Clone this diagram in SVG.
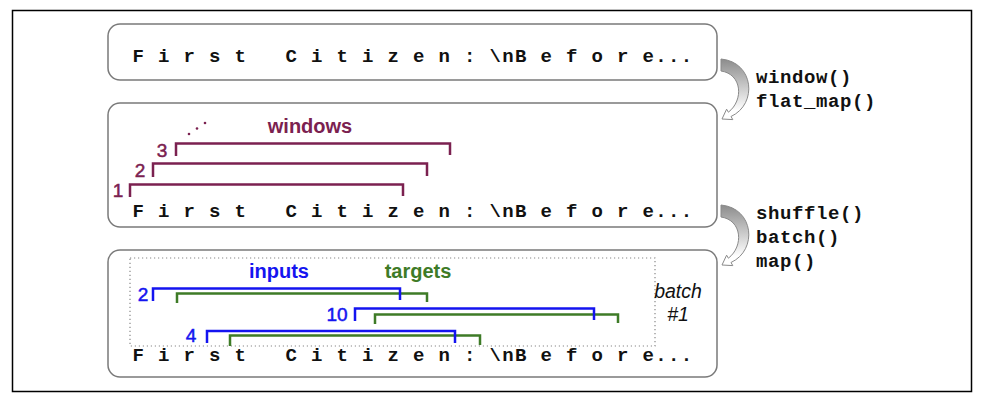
<svg xmlns="http://www.w3.org/2000/svg" width="982" height="400" viewBox="0 0 982 400">
<style>
.frame{fill:none;stroke:#000;stroke-width:1.5}
.box{fill:#fff;stroke:#7a7a7a;stroke-width:1.5}
.seq{font-family:"Liberation Mono","DejaVu Sans Mono",monospace;font-weight:bold;font-size:19px;letter-spacing:1.35px;fill:#111;white-space:pre}
.op{font-family:"Liberation Mono","DejaVu Sans Mono",monospace;font-weight:bold;font-size:19px;letter-spacing:0.6px;fill:#111}
.lbl{font-family:"Liberation Sans",Arial,sans-serif;font-weight:bold;font-size:20px}
.num{font-family:"Liberation Sans",Arial,sans-serif;font-size:19px;text-anchor:middle;stroke-width:0.5}
.mar{fill:#7b2150}
.blu{fill:#1414f0}
.grn{fill:#3e7b27}
.num.mar{stroke:#7b2150}
.num.blu{stroke:#1414f0}
.bm{fill:none;stroke:#7b2150;stroke-width:2.5}
.bb{fill:none;stroke:#1414f0;stroke-width:2.5}
.bg{fill:none;stroke:#3e7b27;stroke-width:2.5}
.batch{font-family:"Liberation Sans",Arial,sans-serif;font-style:italic;font-size:19.5px;fill:#111;text-anchor:middle}
.arrow{fill:url(#ag);stroke:#8a8a8a;stroke-width:1}
</style>
<defs>
<linearGradient id="ag" x1="0" y1="0" x2="0" y2="1">
<stop offset="0" stop-color="#8c8c8c"/>
<stop offset="0.5" stop-color="#cfcfcf"/>
<stop offset="0.85" stop-color="#ffffff"/>
</linearGradient>
<path id="arr" d="M721,59 C754,62 758,104 731,116.5 L732.8,119.6 L722,119 L726.6,109.2 L728.4,112.2 C744,100 742,74 721,71 Z"/>
</defs>
<rect class="frame" x="12.5" y="10.5" width="959" height="381"/>

<g id="box1">
<rect class="box" x="108" y="24" width="609" height="56" rx="12"/>
<text class="seq" x="132.5" y="62" xml:space="preserve">F i r s t   C i t i z e n : \nB e f o r e...</text>
</g>

<g id="box2">
<rect class="box" x="108" y="103" width="609" height="124" rx="12"/>
<text class="seq" x="132.5" y="217" xml:space="preserve">F i r s t   C i t i z e n : \nB e f o r e...</text>
<path class="bm" d="M130,197 V184.5 H403 V196"/>
<path class="bm" d="M153,177 V163.5 H427 V176"/>
<path class="bm" d="M176,156 V143.5 H450 V155"/>
<text class="num mar" x="118" y="197">1</text>
<text class="num mar" x="140" y="177">2</text>
<text class="num mar" x="162" y="157">3</text>
<circle class="mar" cx="189" cy="134" r="1.3"/>
<circle class="mar" cx="197" cy="128.5" r="1.3"/>
<circle class="mar" cx="205" cy="123" r="1.3"/>
<text class="lbl mar" x="310" y="133" text-anchor="middle">windows</text>
</g>

<g id="box3">
<rect class="box" x="108" y="250" width="609" height="127" rx="12"/>
<rect x="130" y="258" width="525" height="88" fill="none" stroke="#888" stroke-width="1.2" stroke-dasharray="1.2,2.8"/>
<text class="seq" x="132.5" y="361" xml:space="preserve">F i r s t   C i t i z e n : \nB e f o r e...</text>
<path class="bg" d="M177,303 V293.5 H427 V302"/>
<path class="bb" d="M153,301 V288.5 H400 V300"/>
<path class="bg" d="M375,324 V314.5 H618 V323"/>
<path class="bb" d="M355,321 V308.5 H594 V320"/>
<path class="bg" d="M230,346 V335.5 H480 V345"/>
<path class="bb" d="M207,343 V331 H455 V343"/>
<text class="num blu" x="143" y="301">2</text>
<text class="num blu" x="337" y="321">10</text>
<text class="num blu" x="191" y="342">4</text>
<text class="lbl blu" x="279" y="278" text-anchor="middle">inputs</text>
<text class="lbl grn" x="418" y="278" text-anchor="middle">targets</text>
<text class="batch" x="678" y="298">batch</text>
<text class="batch" x="678" y="321">#1</text>
</g>

<g id="connectors">
<use href="#arr" class="arrow"/>
<use href="#arr" class="arrow" transform="translate(0,146)"/>
<text class="op" x="756" y="83">window()</text>
<text class="op" x="756" y="107">flat_map()</text>
<text class="op" x="756" y="219">shuffle()</text>
<text class="op" x="756" y="243">batch()</text>
<text class="op" x="756" y="267">map()</text>
</g>
</svg>
